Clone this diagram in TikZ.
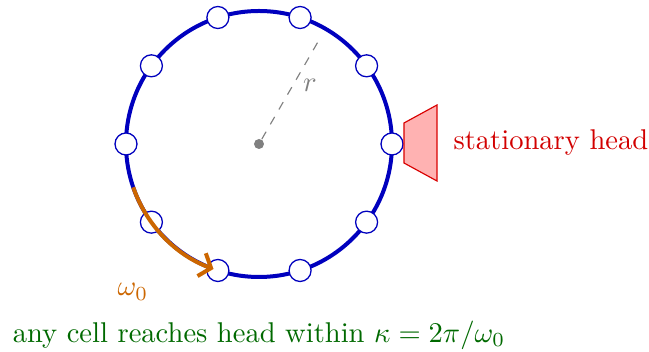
\documentclass[tikz,border=0pt]{standalone}
\usetikzlibrary{arrows.meta,calc}
\definecolor{ringblue}{RGB}{0,0,190}
\definecolor{arcorange}{RGB}{204,102,0}
\definecolor{headred}{RGB}{210,0,0}
\definecolor{capgreen}{RGB}{0,105,0}
\tikzset{
  cell/.style={circle,draw=ringblue,line width=0.45pt,fill=white,minimum size=7.7pt,inner sep=0pt},
  ring/.style={draw=ringblue,line width=1.4pt},
  sweep/.style={draw=arcorange,line width=1.4pt,-{Straight Barb[length=3.5pt,width=8.5pt]}},
  headshape/.style={draw=red!85!black,fill=red!30,line width=0.4pt},
  radline/.style={draw=gray,dashed,line width=0.4pt},
}
\begin{document}
\begin{tikzpicture}[x=0.35pt,y=0.35pt]
\useasboundingbox (0,0) rectangle (649,352);
\coordinate (O) at (259,208);
\draw[ring] (O) circle[radius=46.55pt];
\foreach \i in {0,...,9}{
  \node[cell] (c\i) at ($(O)+(\i*36:133)$) {};
}
\node[circle,fill=gray,inner sep=0pt,minimum size=3.5pt] (ctr) at (O) {};
\coordinate (rend) at ($(O)+(60:120)$);
\draw[radline] (ctr) -- (rend);
\node[text=gray] (rlab) at (310,267) {$r$};
\draw[sweep] ($(O)+(199:133)$) arc[start angle=199,end angle=250,radius=46.55pt];
\coordinate (h1) at (404,229);
\coordinate (h2) at (437,247);
\coordinate (h3) at (437,171);
\coordinate (h4) at (404,189);
\draw[headshape] (h1) -- (h2) -- (h3) -- (h4) -- cycle;
\node[text=headred,anchor=west,inner sep=0pt] (hlab) at (453,209) {stationary head};
\node[text=arcorange] (wlab) at (133,60) {$\omega_0$};
\node[text=capgreen] (cap) at (259,17) {any cell reaches head within $\kappa=2\pi/\omega_0$};
\end{tikzpicture}
\end{document}
